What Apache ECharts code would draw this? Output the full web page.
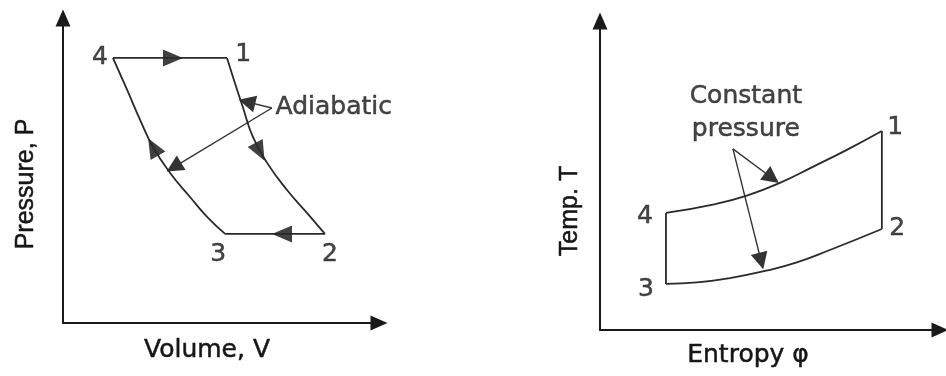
<!DOCTYPE html>
<html>
<head>
<meta charset="utf-8">
<script src="https://cdn.jsdelivr.net/npm/echarts@6/dist/echarts.min.js"></script>
<style>
    html, body {margin: 0; padding: 0; background: #fff;}
    #cycles {width: 946px; height: 376px;}
</style>
</head>
<body>
<div id="cycles"></div>
<script>
// both diagrams use arbitrary units, 0-100 on each axis

// P-V diagram
var pvTop = [[15.8, 86.9], [51.9, 86.9]];                       // 4 -> 1
var pvExpansion = [[51.9, 86.9], [54.4, 78.7], [56.9, 70.8], [60.1, 61.0],
    [64.6, 52.5], [70.9, 43.6], [77.2, 36.1], [82.9, 29.2]];    // 1 -> 2
var pvBottom = [[82.9, 29.2], [51.3, 29.2]];                    // 2 -> 3
var pvCompression = [[51.3, 29.2], [45.6, 34.8], [40.2, 41.3], [33.9, 49.2],
    [28.5, 57.7], [24.4, 66.6], [20.3, 76.4], [15.8, 86.9]];    // 3 -> 4
var pvArrows = [[34.8, 86.9], [62.3, 56.1], [69.3, 29.2], [28.5, 57.7]];
var pvArrowDir = [-90, 208, 90, 29.5];   // degrees, counter-clockwise from "up"
var pvStates = [['4', 11.7, 87.2], ['1', 57.0, 87.9], ['2', 84.5, 22.3], ['3', 49.1, 22.3]];
var pvNote = ['Adiabatic', 67.1, 70.5];
var pvPointers = [[[66.1, 70.5], [58.2, 72.5]], [[66.1, 70.5], [35.1, 51.1]]];

// T-phi diagram
var tsUpper = [[19.4, 37.9], [33.2, 40.6], [43.2, 43.5], [52.9, 47.6],
    [62.6, 52.8], [72.6, 58.3], [82.9, 64.4]];                  // 4 -> 1
var tsRight = [[82.9, 64.4], [82.9, 32.7]];                     // 1 -> 2
var tsLower = [[19.4, 14.9], [28.5, 15.4], [38.2, 16.8], [48.5, 19.1],
    [57.9, 21.9], [67.6, 25.9], [82.9, 32.7]];                  // 3 -> 2
var tsLeft = [[19.4, 37.9], [19.4, 14.9]];                      // 4 -> 3
var tsStates = [['1', 86.8, 65.4], ['2', 87.4, 33.0], ['4', 13.2, 36.6], ['3', 13.5, 13.0]];
var tsNote = ['Constant\npressure', 42.9, 70.2];
var tsPointers = [[[39.1, 58.6], [50.6, 49.2]], [[39.1, 58.6], [47.4, 22.3]]];

var FONT = '"DejaVu Sans", sans-serif';          // wide face, matches label widths
var AXIS_FONT = '"Liberation Sans", Arial, sans-serif';
var INK = '#161616';

var chart = echarts.init(document.getElementById('cycles'));

function axis(idx, name, gap, pad, font) {
    return {
        type: 'value',
        gridIndex: idx,
        min: 0,
        max: 100,
        name: name,
        nameLocation: 'middle',
        nameGap: gap,
        nameTextStyle: {
            color: INK, fontSize: 25, fontFamily: font, padding: pad,
            textBorderColor: INK, textBorderWidth: 0.5
        },
        axisLine: {
            show: true,
            symbol: ['none', 'triangle'],
            symbolSize: [15, 17],
            lineStyle: {color: '#1a1a1a', width: 2}
        },
        axisTick: {show: false},
        axisLabel: {show: false},
        splitLine: {show: false}
    };
}

function path(idx, data, smooth) {
    return {
        type: 'line',
        xAxisIndex: idx,
        yAxisIndex: idx,
        data: data,
        smooth: smooth ? true : false,
        showSymbol: false,
        symbol: 'none',
        lineStyle: {color: '#2a2a2a', width: 1.8},
        silent: true
    };
}

function pointers(idx, segs) {
    return {
        type: 'lines',
        coordinateSystem: 'cartesian2d',
        xAxisIndex: idx,
        yAxisIndex: idx,
        symbol: ['none', 'triangle'],
        symbolSize: [14, 17],
        lineStyle: {color: '#333', width: 1.4, opacity: 1},
        data: segs.map(function (s) { return {coords: s}; }),
        silent: true
    };
}

function texts(idx, rows, pos) {
    return {
        type: 'scatter',
        xAxisIndex: idx,
        yAxisIndex: idx,
        symbolSize: 1,
        itemStyle: {color: 'rgba(0,0,0,0)'},
        label: {
            show: true,
            position: pos || 'inside',
            distance: 0,
            color: INK,
            fontSize: 25,
            fontFamily: FONT,
            lineHeight: 33,
            textBorderColor: INK,
            textBorderWidth: 0.5,
            formatter: function (p) { return p.data[2]; }
        },
        data: rows.map(function (r) { return [r[1], r[2], r[0]]; }),
        silent: true
    };
}

var option = {
    animation: false,
    backgroundColor: '#fff',
    grid: [
        {left: 63, top: 18, width: 316, height: 305},
        {left: 600, top: 21, width: 340, height: 309}
    ],
    xAxis: [
        axis(0, 'Volume, V', 15, [0, 28, 0, 0], FONT),
        axis(1, 'Entropy φ', 13, [0, 44, 0, 0], FONT)
    ],
    yAxis: [
        axis(0, 'Pressure, P', 24, [0, 27, 0, 0], AXIS_FONT),
        axis(1, 'Temp. T', 17, [0, 71, 0, 0], AXIS_FONT)
    ],
    series: [
        path(0, pvTop), path(0, pvExpansion, true), path(0, pvBottom), path(0, pvCompression, true),
        {
            type: 'scatter',
            xAxisIndex: 0,
            yAxisIndex: 0,
            symbol: 'triangle',
            symbolSize: [17, 20],
            itemStyle: {color: '#111'},
            data: pvArrows.map(function (p, i) {
                return {value: p, symbolRotate: pvArrowDir[i]};
            }),
            silent: true
        },
        pointers(0, pvPointers),
        texts(0, pvStates),
        texts(0, [pvNote], 'right'),

        path(1, tsUpper, true), path(1, tsRight), path(1, tsLower, true), path(1, tsLeft),
        pointers(1, tsPointers),
        texts(1, tsStates),
        texts(1, [tsNote])
    ]
};

chart.setOption(option);
</script>
</body>
</html>
